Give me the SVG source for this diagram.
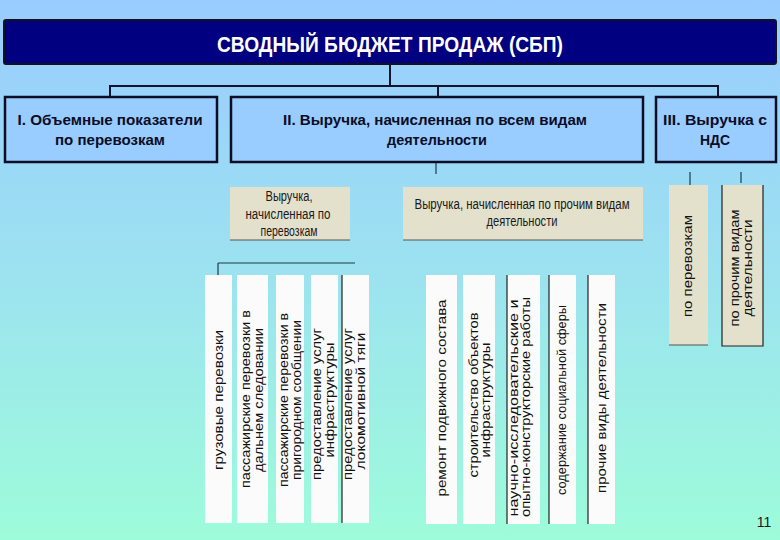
<svg xmlns="http://www.w3.org/2000/svg" width="780" height="540" viewBox="0 0 780 540">
<defs>
<linearGradient id="bg" x1="0" y1="0" x2="0" y2="1">
<stop offset="0" stop-color="#99ccff"/>
<stop offset="0.5" stop-color="#9ce2f0"/>
<stop offset="1" stop-color="#9dfcda"/>
</linearGradient>
<style>
.hdr{fill:#99ccff;stroke:#0d0d26;stroke-width:2.5}
.ttl{font-family:"Liberation Sans",Arial,sans-serif;font-weight:bold;font-size:22px;fill:#ffffff;text-anchor:middle}
.bt{font-family:"Liberation Sans",Arial,sans-serif;font-weight:bold;font-size:15px;fill:#0d0d26;text-anchor:middle}
.sub{fill:#e3e0cc}
.st{font-family:"Liberation Sans Narrow","Liberation Sans",Arial,sans-serif;font-size:14px;fill:#1a1a1a;text-anchor:middle}
.vb{fill:#fbfbfb}
.vt{font-family:"Liberation Sans",Arial,sans-serif;font-size:13px;fill:#111;text-anchor:middle}
.con{stroke:#14142e;stroke-width:2;fill:none}
.thin{stroke:#1f3a48;stroke-width:1.2;fill:none}
.edge{stroke:#222;stroke-width:1.2;fill:none}
.shadow{stroke:#555;stroke-width:1.2}
</style>
</defs>
<rect x="0" y="0" width="780" height="540" fill="url(#bg)"/>

<g id="connectors">
<path class="con" d="M390,64 V86 M110,86 H718 M110,85 V97 M438,85 V97 M718,85 V97"/>
<path class="thin" d="M436,163 V174 M690,172 V185 M741,172 V183 M218,263 H355 M218,263 V275"/>
</g>

<g id="title">
<rect x="4" y="20" width="772" height="44" rx="2" fill="#000080" stroke="#111122" stroke-width="2"/>
<text class="ttl" x="390" y="52" textLength="346" lengthAdjust="spacingAndGlyphs">СВОДНЫЙ БЮДЖЕТ ПРОДАЖ (СБП)</text>
</g>

<g id="box1">
<rect class="hdr" x="5" y="97" width="212" height="65"/>
<text class="bt" x="110" y="125" textLength="185" lengthAdjust="spacingAndGlyphs">I. Объемные показатели</text>
<text class="bt" x="110" y="145" textLength="110" lengthAdjust="spacingAndGlyphs">по перевозкам</text>
</g>

<g id="box2">
<rect class="hdr" x="231" y="97" width="412" height="65"/>
<text class="bt" x="435" y="125" textLength="304" lengthAdjust="spacingAndGlyphs">II. Выручка, начисленная по всем видам</text>
<text class="bt" x="437" y="145" textLength="100" lengthAdjust="spacingAndGlyphs">деятельности</text>
</g>

<g id="box3">
<rect class="hdr" x="656" y="97" width="120" height="65"/>
<text class="bt" x="715" y="125" textLength="104" lengthAdjust="spacingAndGlyphs">III. Выручка с</text>
<text class="bt" x="715" y="145" textLength="30" lengthAdjust="spacingAndGlyphs">НДС</text>
</g>

<g id="sub1">
<rect class="sub" x="230" y="187" width="120" height="53"/>
<line class="shadow" x1="230" y1="240" x2="350" y2="240"/>
<text class="st" x="289" y="201" textLength="47" lengthAdjust="spacingAndGlyphs">Выручка,</text>
<text class="st" x="288" y="219" textLength="85" lengthAdjust="spacingAndGlyphs">начисленная по</text>
<text class="st" x="289" y="236" textLength="57" lengthAdjust="spacingAndGlyphs">перевозкам</text>
</g>

<g id="sub2">
<rect class="sub" x="403" y="187" width="240" height="53"/>
<line class="shadow" x1="403" y1="240" x2="643" y2="240"/>
<text class="st" x="522" y="209" textLength="215" lengthAdjust="spacingAndGlyphs">Выручка, начисленная по прочим видам</text>
<text class="st" x="522" y="226" textLength="71" lengthAdjust="spacingAndGlyphs">деятельности</text>
</g>

<g id="v1">
<rect class="vb" x="205" y="275" width="27" height="248"/>
<text class="vt" transform="translate(223,400) rotate(-90)" textLength="140" lengthAdjust="spacingAndGlyphs">грузовые перевозки</text>
</g>
<g id="v2">
<rect class="vb" x="237" y="275" width="31" height="248"/>
<text class="vt" transform="translate(250,399) rotate(-90)" textLength="178" lengthAdjust="spacingAndGlyphs">пассажирские перевозки в</text>
<text class="vt" transform="translate(263,400) rotate(-90)" textLength="144" lengthAdjust="spacingAndGlyphs">дальнем следовании</text>
</g>
<g id="v3">
<rect class="vb" x="276" y="275" width="28" height="248"/>
<text class="vt" transform="translate(288,400) rotate(-90)" textLength="174" lengthAdjust="spacingAndGlyphs">пассажирские перевозки в</text>
<text class="vt" transform="translate(301,400) rotate(-90)" textLength="160" lengthAdjust="spacingAndGlyphs">пригородном сообщении</text>
</g>
<g id="v4">
<rect class="vb" x="311" y="275" width="27" height="248"/>
<text class="vt" transform="translate(321,404) rotate(-90)" textLength="152" lengthAdjust="spacingAndGlyphs">предоставление услуг</text>
<text class="vt" transform="translate(334,400) rotate(-90)" textLength="115" lengthAdjust="spacingAndGlyphs">инфраструктуры</text>
</g>
<g id="v5">
<rect class="vb" x="342" y="275" width="27" height="248"/>
<line class="edge" x1="342" y1="275" x2="342" y2="523"/>
<text class="vt" transform="translate(352,404) rotate(-90)" textLength="152" lengthAdjust="spacingAndGlyphs">предоставление услуг</text>
<text class="vt" transform="translate(365,401) rotate(-90)" textLength="137" lengthAdjust="spacingAndGlyphs">локомотивной тяги</text>
</g>

<g id="v6">
<rect class="vb" x="426" y="275" width="31" height="249"/>
<text class="vt" transform="translate(446,398) rotate(-90)" textLength="197" lengthAdjust="spacingAndGlyphs">ремонт подвижного состава</text>
</g>
<g id="v7">
<rect class="vb" x="463" y="275" width="32" height="249"/>
<text class="vt" transform="translate(478,395) rotate(-90)" textLength="165" lengthAdjust="spacingAndGlyphs">строительство объектов</text>
<text class="vt" transform="translate(490,400) rotate(-90)" textLength="115" lengthAdjust="spacingAndGlyphs">инфраструктуры</text>
</g>
<g id="v8">
<rect class="vb" x="507" y="275" width="33" height="249"/>
<line class="edge" x1="507" y1="275" x2="507" y2="524"/>
<text class="vt" transform="translate(518,408) rotate(-90)" textLength="217" lengthAdjust="spacingAndGlyphs">научно-исследовательские и</text>
<text class="vt" transform="translate(530,407) rotate(-90)" textLength="220" lengthAdjust="spacingAndGlyphs">опытно-конструкторские работы</text>
</g>
<g id="v9">
<rect class="vb" x="549" y="275" width="27" height="249"/>
<line class="edge" x1="549" y1="275" x2="549" y2="524"/>
<text class="vt" transform="translate(566,400) rotate(-90)" textLength="190" lengthAdjust="spacingAndGlyphs">содержание социальной сферы</text>
</g>
<g id="v10">
<rect class="vb" x="588" y="275" width="27" height="249"/>
<line class="edge" x1="588" y1="275" x2="588" y2="524"/>
<text class="vt" transform="translate(606,398) rotate(-90)" textLength="190" lengthAdjust="spacingAndGlyphs">прочие виды деятельности</text>
</g>

<g id="r1">
<rect class="sub" x="669" y="185" width="39" height="160"/>
<line class="shadow" x1="669" y1="345" x2="708" y2="345"/>
<text class="vt" transform="translate(692,266) rotate(-90)" textLength="102" lengthAdjust="spacingAndGlyphs">по перевозкам</text>
</g>
<g id="r2">
<rect class="sub" x="722" y="185" width="41" height="161"/>
<path class="edge" d="M722,185 V346 H763 V185"/>
<text class="vt" transform="translate(739,268) rotate(-90)" textLength="117" lengthAdjust="spacingAndGlyphs">по прочим видам</text>
<text class="vt" transform="translate(752,268) rotate(-90)" textLength="97" lengthAdjust="spacingAndGlyphs">деятельности</text>
</g>

<text x="764" y="527" font-family="Liberation Sans, Arial, sans-serif" font-size="14" fill="#1a1a1a" text-anchor="middle">11</text>
</svg>
